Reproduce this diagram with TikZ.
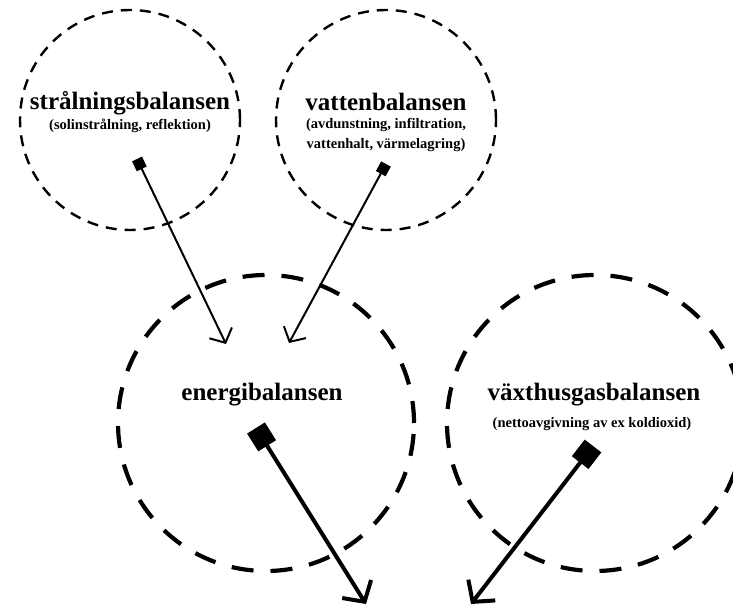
\documentclass[tikz,border=0pt]{standalone}
\usepackage{fontspec}
\setmainfont{Liberation Serif}
\usetikzlibrary{arrows.meta,positioning}
\tikzset{
  every picture/.style={x=1pt,y=-1pt},
  thinring/.style={circle,draw,line width=2.4pt,dash pattern=on 11pt off 8pt,minimum size=220pt,inner sep=0pt},
  thickring/.style={circle,draw,line width=4.2pt,dash pattern=on 22pt off 17pt,minimum size=296pt,inner sep=0pt},
  title/.style={font=\fontsize{25}{28}\selectfont\bfseries,inner sep=0pt},
  sub/.style={font=\fontsize{14.5}{20}\selectfont\bfseries,align=center,inner sep=0pt},
  thinflow/.style={line width=2pt,{Square[length=11pt,width=11pt]}-{Straight Barb[length=11pt,width=25pt,line width=2pt]}},
  thickflow/.style={line width=4pt,{Square[length=21pt,width=21pt]}-{Straight Barb[length=15pt,width=34pt,line width=4pt]}},
}
\begin{document}
\begin{tikzpicture}
  \useasboundingbox (0,0) rectangle (733,607);
  % the four balances
  \node[thinring] (strl) at (130,120) {};
  \node[thinring] (vatt) at (386,120) {};
  \node[thickring] (ener) at (266,423) {};
  \node[thickring] (vaxt) at (595,423) {};
  \node[title] (strlT) at (130,103) {strålningsbalansen};
  \node[sub] (strlS) at (130,126) {(solinstrålning, reflektion)};
  \node[title] (vattT) at (386,102) {vattenbalansen};
  \node[sub] (vattS) at (386,135) {(avdunstning, infiltration,\\vattenhalt, värmelagring)};
  \node[title] (enerT) at (262,395) {energibalansen};
  \node[title] (vaxtT) at (594,395) {växthusgasbalansen};
  \node[sub] (vaxtS) at (592,424) {(nettoavgivning av ex koldioxid)};
  % end points of the flows
  \coordinate (strlOut) at (137,159);
  \coordinate (vattOut) at (386,164);
  \coordinate (enerInA) at (226,344);
  \coordinate (enerInB) at (289,343);
  \coordinate (enerOut) at (256,428);
  \coordinate (enerEnd) at (366,604);
  \coordinate (vaxtOut) at (593,446);
  \coordinate (vaxtEnd) at (471,604);
  \draw[thinflow] (strlOut) -- (enerInA);
  \draw[thinflow] (vattOut) -- (enerInB);
  \draw[thickflow] (enerOut) -- (enerEnd);
  \draw[thickflow] (vaxtOut) -- (vaxtEnd);
\end{tikzpicture}
\end{document}
